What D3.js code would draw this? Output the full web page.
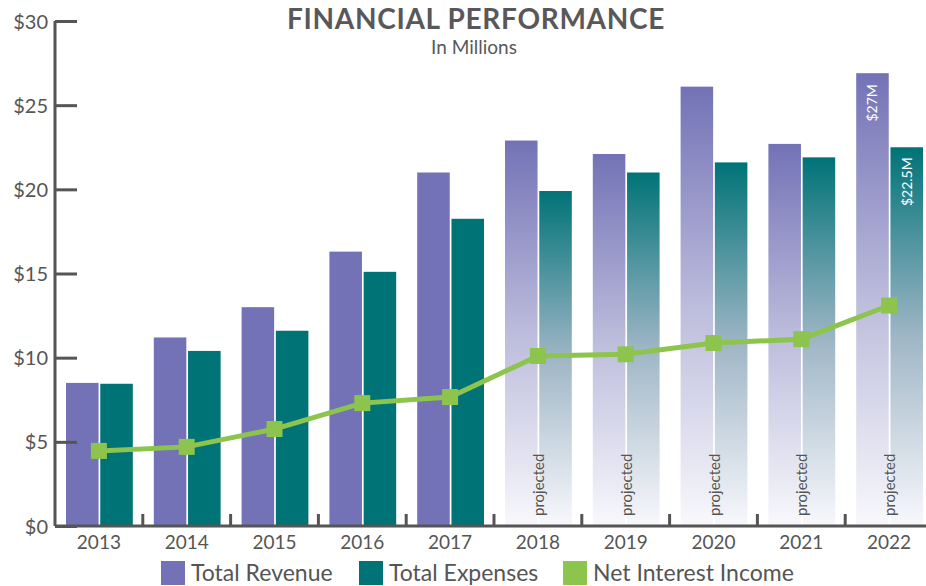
<!DOCTYPE html>
<html>
<head>
<meta charset="utf-8">
<script src="https://cdn.jsdelivr.net/npm/d3@7"></script>
<style>
  body { margin: 0; background: #fff; }
  text { font-family: Lato, "Open Sans", sans-serif; }
</style>
</head>
<body>
<div id="chart"></div>
<script>
const years = ["2013", "2014", "2015", "2016", "2017", "2018", "2019", "2020", "2021", "2022"];
const projectedYears = ["2018", "2019", "2020", "2021", "2022"];
const revenue = [8.5, 11.2, 13.0, 16.3, 21.0, 22.9, 22.1, 26.1, 22.7, 26.9];
const expenses = [8.45, 10.4, 11.6, 15.1, 18.25, 19.9, 21.0, 21.6, 21.9, 22.5];
const netInterest = [4.46, 4.7, 5.76, 7.3, 7.66, 10.1, 10.2, 10.87, 11.1, 13.1];
const yTicks = [0, 5, 10, 15, 20, 25, 30];
const barLabels = { "2022": ["$27M", "$22.5M"] };

const width = 926, height = 586;
const margin = { top: 21, right: -7, bottom: 60, left: 55 };
const revColor = "#7372b6", expColor = "#007377", lineColor = "#8dc44e", axisColor = "#555";

const svg = d3.select("#chart").append("svg")
  .attr("width", width).attr("height", height);

// fading fill for the projected years
const defs = svg.append("defs");
[["gradRev", [revColor, "#bcbcdc", "#f8f8fc"]], ["gradExp", [expColor, "#9fb6c6", "#f8f8fc"]]].forEach(([id, cs]) => {
  const g = defs.append("linearGradient").attr("id", id)
    .attr("x1", 0).attr("y1", 0).attr("x2", 0).attr("y2", 1);
  g.append("stop").attr("offset", "0%").attr("stop-color", cs[0]);
  g.append("stop").attr("offset", "50%").attr("stop-color", cs[1]);
  g.append("stop").attr("offset", "100%").attr("stop-color", cs[2]);
});

const x = d3.scaleBand().domain(years)
  .range([margin.left, width - margin.right]).paddingInner(0).paddingOuter(0);
const x1 = d3.scaleBand().domain(["rev", "exp"])
  .range([11, x.bandwidth() - 10]).paddingInner(0.05);
const y = d3.scaleLinear().domain([0, 30])
  .range([height - margin.bottom, margin.top]);

const isProj = yr => projectedYears.includes(yr);

const groups = svg.append("g").selectAll("g").data(years).join("g")
  .attr("transform", d => `translate(${x(d)},0)`);

groups.append("rect")
  .attr("x", x1("rev")).attr("width", x1.bandwidth())
  .attr("y", (d, i) => y(revenue[i])).attr("height", (d, i) => y(0) - y(revenue[i]))
  .attr("fill", d => isProj(d) ? "url(#gradRev)" : revColor);

groups.append("rect")
  .attr("x", x1("exp")).attr("width", x1.bandwidth())
  .attr("y", (d, i) => y(expenses[i])).attr("height", (d, i) => y(0) - y(expenses[i]))
  .attr("fill", d => isProj(d) ? "url(#gradExp)" : expColor);

// "projected" labels
groups.filter(d => isProj(d)).append("text")
  .attr("transform", `translate(${x.bandwidth() / 2 + 6},${y(0) - 10}) rotate(-90)`)
  .attr("font-size", 15).attr("fill", "#555")
  .text("projected");

// value labels on the last bars
groups.filter(d => barLabels[d]).each(function (d) {
  const i = years.indexOf(d);
  const g = d3.select(this);
  g.append("text")
    .attr("transform", `translate(${x1("rev") + x1.bandwidth() / 2 + 5},${y(revenue[i]) + 11}) rotate(-90)`)
    .attr("text-anchor", "end").attr("font-size", 14).attr("fill", "#fff")
    .text(barLabels[d][0]);
  g.append("text")
    .attr("transform", `translate(${x1("exp") + x1.bandwidth() / 2 + 5},${y(expenses[i]) + 10}) rotate(-90)`)
    .attr("text-anchor", "end").attr("font-size", 14).attr("fill", "#fff")
    .text(barLabels[d][1]);
});

// axes
const yAxis = svg.append("g").attr("transform", `translate(${margin.left},0)`)
  .call(d3.axisRight(y).tickValues(yTicks).tickSize(22).tickFormat(d => "$" + d));
yAxis.select(".domain").attr("stroke", axisColor).attr("stroke-width", 3)
  .attr("d", `M0,${y(30)}V${y(0)}`);
yAxis.selectAll(".tick line").attr("stroke", axisColor).attr("stroke-width", 3);
yAxis.selectAll(".tick text").attr("x", -7).attr("text-anchor", "end")
  .attr("font-size", 20).attr("fill", axisColor).attr("dy", "0.35em");

const xAxis = svg.append("g").attr("transform", `translate(0,${y(0)})`)
  .call(d3.axisBottom(x).tickSize(0));
xAxis.select(".domain").attr("stroke", axisColor).attr("stroke-width", 3)
  .attr("d", `M${margin.left},0H${width}`);
xAxis.selectAll(".tick text").attr("font-size", 19).attr("fill", axisColor).attr("dy", "1.05em");
// inward ticks at category boundaries
svg.append("g").selectAll("line").data(years.slice(1)).join("line")
  .attr("x1", d => x(d)).attr("x2", d => x(d))
  .attr("y1", y(0)).attr("y2", y(0) - 12)
  .attr("stroke", axisColor).attr("stroke-width", 3);

// net interest line
const line = d3.line()
  .x((d, i) => x(years[i]) + x.bandwidth() / 2)
  .y(d => y(d));
svg.append("path").datum(netInterest)
  .attr("fill", "none").attr("stroke", lineColor).attr("stroke-width", 5)
  .attr("d", line);
svg.append("g").selectAll("rect").data(netInterest).join("rect")
  .attr("x", (d, i) => x(years[i]) + x.bandwidth() / 2 - 8)
  .attr("y", d => y(d) - 8)
  .attr("width", 16).attr("height", 16)
  .attr("fill", lineColor);

// title
svg.append("text").attr("x", 476).attr("y", 29).attr("text-anchor", "middle")
  .attr("font-size", 28).attr("font-weight", "bold").attr("fill", "#58585a")
  .attr("letter-spacing", 0.7)
  .text("FINANCIAL PERFORMANCE");
svg.append("text").attr("x", 474).attr("y", 54).attr("text-anchor", "middle")
  .attr("font-size", 19).attr("fill", "#58585a")
  .text("In Millions");

// legend
const legendItems = [
  { label: "Total Revenue", color: revColor, x: 161 },
  { label: "Total Expenses", color: expColor, x: 359 },
  { label: "Net Interest Income", color: lineColor, x: 563 }
];
const legend = svg.append("g").selectAll("g").data(legendItems).join("g")
  .attr("transform", d => `translate(${d.x},561)`);
legend.append("rect").attr("width", 24).attr("height", 24).attr("fill", d => d.color);
legend.append("text").attr("x", 30).attr("y", 20)
  .attr("font-size", 23).attr("fill", "#555").text(d => d.label);
</script>
</body>
</html>
